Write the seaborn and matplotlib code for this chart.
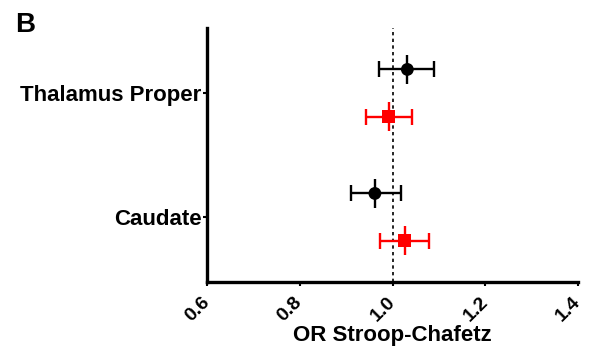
import matplotlib
matplotlib.use("Agg")
import matplotlib.pyplot as plt
import seaborn as sns
import pandas as pd
import numpy as np

regions = ["Thalamus Proper", "Caudate"]
series = ["Group 1", "Group 2"]
colors = ["black", "red"]
markers = ["o", "s"]
# odds ratios and CI for each series per region
or_black = [1.032, 0.962]
lo_black = [0.970, 0.911]
hi_black = [1.090, 1.019]
or_red = [0.992, 1.026]
lo_red = [0.943, 0.974]
hi_red = [1.043, 1.079]
xticks = [0.6, 0.8, 1.0, 1.2, 1.4]

sns.set_style("ticks", {"text.color": "black", "axes.edgecolor": "black",
                        "axes.labelcolor": "black", "xtick.color": "black",
                        "ytick.color": "black"})
plt.rcParams['font.family'] = ['Liberation Sans', 'DejaVu Sans']

fig = plt.figure(figsize=(5.89, 3.56), dpi=100)
ax = fig.add_axes([0.3514, 0.2079, 0.6300, 0.7134])

base = np.arange(len(regions))
offsets = [-0.19, 0.19]
rows = []
for s, (o, lo, hi) in enumerate([(or_black, lo_black, hi_black), (or_red, lo_red, hi_red)]):
    for i, r in enumerate(regions):
        rows.append(dict(region=r, series=series[s], OR=o[i], lo=lo[i], hi=hi[i], y=base[i] + offsets[s]))
df = pd.DataFrame(rows)

ax.axvline(1.0, color="black", linestyle=(0, (2, 2)), linewidth=1.2, zorder=1)

for s, name in enumerate(series):
    d = df[df.series == name]
    ax.errorbar(d.OR, d.y, xerr=[d.OR - d.lo, d.hi - d.OR], fmt="none",
                ecolor=colors[s], elinewidth=1.7, capsize=6, capthick=1.7, zorder=2)
    ax.errorbar(d.OR, d.y, yerr=0.12, fmt="none", ecolor=colors[s],
                elinewidth=1.7, capsize=0, zorder=2)

sns.scatterplot(data=df, x="OR", y="y", hue="series", style="series",
                palette=dict(zip(series, colors)), markers=dict(zip(series, markers)),
                s=85, edgecolor="none", legend=False, ax=ax, zorder=3)

ax.set_xlim(0.6, 1.4)
ax.set_ylim(1.524, -0.524)
ax.set_xticks(xticks)
ax.set_xticklabels([f"{t:.1f}" for t in xticks], rotation=45, ha="right", va="center",
                   rotation_mode="anchor", fontsize=14, fontweight="bold", color="black")
ax.set_yticks(base)
ax.set_yticklabels(regions, fontsize=16, fontweight="bold", color="black")
ax.set_xlabel("OR Stroop-Chafetz", fontsize=16, fontweight="bold", labelpad=0, color="black")
ax.set_ylabel("")
for sp in ["top", "right"]:
    ax.spines[sp].set_visible(False)
for sp in ["left", "bottom"]:
    ax.spines[sp].set_linewidth(2.4)
    ax.spines[sp].set_color("black")
ax.tick_params(axis="both", length=3, width=1.5, pad=1, color="black")
ax.tick_params(axis="x", pad=10)

fig.text(0.026, 0.965, "B", fontsize=20, fontweight="bold", va="top", ha="left", color="black")

fig.savefig("out.png", dpi=100)
